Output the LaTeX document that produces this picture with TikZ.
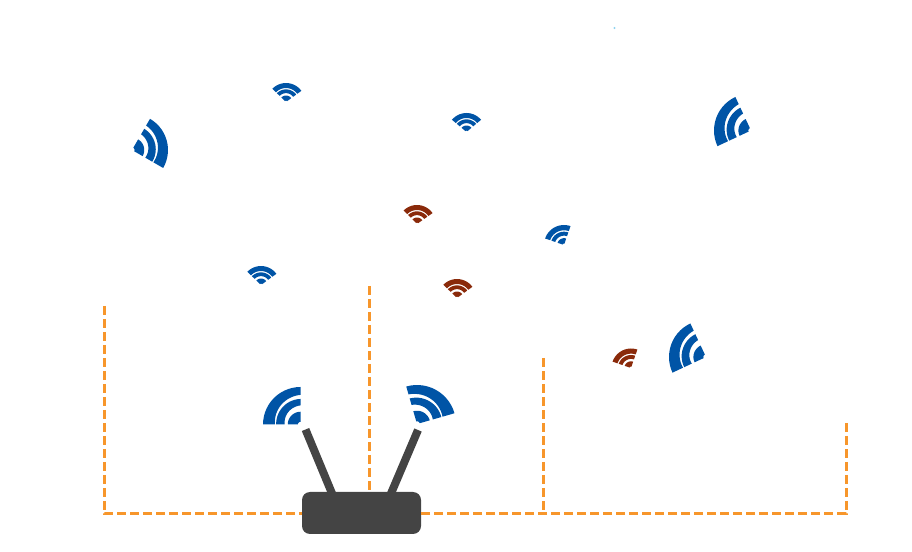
\documentclass[tikz,border=0pt]{standalone}
\definecolor{wblue}{HTML}{0054A6}
\definecolor{wred}{HTML}{8A2A0A}
\definecolor{routergray}{HTML}{444444}
\definecolor{busorange}{HTML}{F7962B}
\definecolor{speck}{HTML}{8FD3F0}
\tikzset{
  busline/.style={draw=busorange,line width=3pt,dash pattern=on 9pt off 4pt},
  antenna/.style={draw=routergray,line width=8pt},
  routerbox/.style={fill=routergray,rounded corners=8pt,minimum width=119pt,minimum height=42pt,inner sep=0pt}
}
% outer radius at -end, at +end, inner radius at -end, at +end
\newcommand{\wband}[4]{%
  \fill plot[domain=-\wh:\wh,samples=15] (\x:{#1+(#2-#1)*(\x+\wh)/(2*\wh)}) -- plot[domain=\wh:-\wh,samples=15] (\x:{#3+(#4-#3)*(\x+\wh)/(2*\wh)}) -- cycle;}
% x, y(from top), direction, radius, half angle, taper, colour
\newcommand{\wifi}[7]{%
  \begin{scope}[shift={(#1,{551-#2})},rotate=#3,scale=#4,fill=#7]
    \def\wh{#5}%
    \pgfmathsetmacro{\wa}{0.735+#6}\pgfmathsetmacro{\wb}{0.735-#6}%
    \wband{1}{1}{\wa}{\wb}%
    \pgfmathsetmacro{\wc}{0.665+0.3*#6}\pgfmathsetmacro{\wd}{0.665-0.3*#6}%
    \pgfmathsetmacro{\wa}{0.465+0.8*#6}\pgfmathsetmacro{\wb}{0.465-0.8*#6}%
    \wband{\wc}{\wd}{\wa}{\wb}%
    \wband{0.34}{0.34}{0.07}{0.07}%
  \end{scope}}
\begin{document}
\begin{tikzpicture}[x=1pt,y=1pt]
\useasboundingbox (0,0) rectangle (912,551);
\coordinate (tl) at (104,245);
\coordinate (bl) at (104,37);
\coordinate (tc) at (369.5,265);
\coordinate (tm) at (543,193);
\coordinate (bm) at (543,37);
\coordinate (tr) at (846,128);
\coordinate (br) at (846,37);
\coordinate (al) at (305.5,121.5);
\coordinate (alb) at (333.5,54);
\coordinate (ar) at (418,121);
\coordinate (arb) at (389.5,54);
\node[routerbox] (router) at (361.5,38) {};
\draw[busline] (tl) -- (bl) -- (bl -| router.west);
\draw[busline] (tc) -- (tc |- router.north);
\draw[busline] (tr) -- (br) -- (br -| router.east);
\draw[busline] (tm) -- (bm);
\draw[antenna] (al) -- (alb);
\draw[antenna] (ar) -- (arb);
\wifi{300.5}{424.5}{135}{37.5}{45}{0.055}{wblue}
\wifi{417}{424}{61}{39}{45}{-0.055}{wblue}
\wifi{132}{150}{15}{36}{45}{-0.05}{wblue}
\wifi{751}{130.5}{160}{37}{45}{0.05}{wblue}
\wifi{706}{357}{160}{37}{45}{0.05}{wblue}
\wifi{286}{102}{86}{19}{50}{0}{wblue}
\wifi{466.5}{132}{90}{19}{50}{0}{wblue}
\wifi{261}{285}{86}{19}{50}{0}{wblue}
\wifi{564}{245}{116}{20}{45}{0}{wblue}
\wifi{417}{224}{85}{19}{50}{0}{wred}
\wifi{457}{298}{86}{19}{50}{0}{wred}
\wifi{631}{368}{116}{19.5}{45}{0}{wred}
\fill[speck] (614.5,523) circle (1.2);
\end{tikzpicture}
\end{document}
